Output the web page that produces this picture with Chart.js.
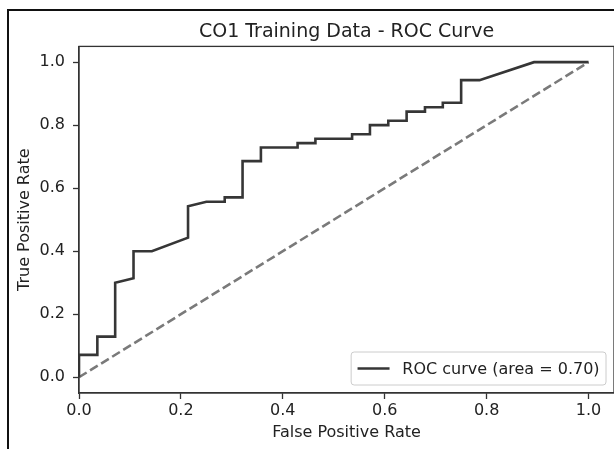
<!DOCTYPE html>
<html>
<head>
<meta charset="utf-8">
<title>CO1 Training Data - ROC Curve</title>
<script src="https://cdn.jsdelivr.net/npm/chart.js@4/dist/chart.umd.min.js"></script>
<style>
  html, body { margin: 0; padding: 0; background: #fff; }
  body { width: 614px; height: 449px; position: relative; overflow: hidden; }
  #frame { position: absolute; left: 7px; top: 9px; width: 700px; height: 600px; border-left: 2px solid #111; border-top: 2px solid #111; }
  #rocChart { position: absolute; left: 0; top: 0; }
</style>
</head>
<body>
<div id="frame"></div>
<canvas id="rocChart" width="614" height="449"></canvas>
<script>
'use strict';

// ROC curve points
var fprValues = [0, 0, 0.036, 0.036, 0.071, 0.071, 0.107, 0.107, 0.143, 0.214,
  0.214, 0.25, 0.286, 0.286, 0.321, 0.321, 0.357, 0.357, 0.429, 0.429,
  0.464, 0.464, 0.536, 0.536, 0.571, 0.571, 0.607, 0.607, 0.643, 0.643,
  0.679, 0.679, 0.714, 0.714, 0.75, 0.75, 0.786, 0.893, 1.0];
var tprValues = [0, 0.071, 0.071, 0.129, 0.129, 0.3, 0.314, 0.4, 0.4, 0.443,
  0.543, 0.557, 0.557, 0.571, 0.571, 0.686, 0.686, 0.729, 0.729, 0.743,
  0.743, 0.757, 0.757, 0.771, 0.771, 0.8, 0.8, 0.814, 0.814, 0.843,
  0.843, 0.857, 0.857, 0.871, 0.871, 0.943, 0.943, 1.0, 1.0];

// chance line
var chanceX = [0, 1];
var chanceY = [0, 1];

var xTickValues = [0, 0.2, 0.4, 0.6, 0.8, 1.0];
var yTickValues = [0, 0.2, 0.4, 0.6, 0.8, 1.0];

var rocLabel = 'ROC curve (area = 0.70)';

(function () {
  var FONT = 'DejaVu Sans';
  var INK = '#222';
  var SPINE = '#333';

  function points(xs, ys) {
    return xs.map(function (x, i) { return { x: x, y: ys[i] }; });
  }

  function fixedTicks(values) {
    return function (scale) {
      scale.ticks = values.map(function (v) { return { value: v }; });
    };
  }

  // box around the plot area, like the matplotlib spines
  var framePlugin = {
    id: 'frame',
    afterDatasetsDraw: function (chart) {
      var a = chart.chartArea;
      var ctx = chart.ctx;
      ctx.save();
      ctx.strokeStyle = SPINE;
      ctx.lineWidth = 1.3;
      ctx.strokeRect(a.left, a.top, a.right - a.left, a.bottom - a.top);
      ctx.restore();
    }
  };

  // legend in the lower right corner, only the ROC entry
  var legendPlugin = {
    id: 'cornerLegend',
    afterDraw: function (chart) {
      var a = chart.chartArea;
      var ctx = chart.ctx;
      var ds = chart.data.datasets[0];
      var fs = 16;
      ctx.save();
      ctx.font = fs + 'px "' + FONT + '"';
      var tw = ctx.measureText(ds.label).width;
      var pad = 0.4 * fs;
      var w = pad + 2 * fs + 0.8 * fs + tw + pad;
      var h = 33;
      var right = a.right - 8;
      var bottom = a.bottom - 8;
      var left = right - w;
      var top = bottom - h;
      ctx.beginPath();
      ctx.roundRect(left, top, w, h, 3);
      ctx.fillStyle = 'rgba(255,255,255,0.8)';
      ctx.fill();
      ctx.strokeStyle = '#cccccc';
      ctx.lineWidth = 1;
      ctx.stroke();
      var cy = top + h / 2;
      ctx.beginPath();
      ctx.moveTo(left + pad, cy);
      ctx.lineTo(left + pad + 2 * fs, cy);
      ctx.strokeStyle = ds.borderColor;
      ctx.lineWidth = ds.borderWidth;
      ctx.stroke();
      ctx.fillStyle = INK;
      ctx.textBaseline = 'middle';
      ctx.textAlign = 'left';
      ctx.fillText(ds.label, left + pad + 2.8 * fs, cy + 1);
      ctx.restore();
    }
  };

  var tickFont = { family: FONT, size: 16 };

  new Chart(document.getElementById('rocChart'), {
    type: 'scatter',
    data: {
      datasets: [
        {
          label: rocLabel,
          data: points(fprValues, tprValues),
          showLine: true,
          borderColor: '#363636',
          borderWidth: 2.6,
          pointRadius: 0,
          tension: 0
        },
        {
          label: 'chance',
          data: points(chanceX, chanceY),
          showLine: true,
          borderColor: '#7a7a7a',
          borderWidth: 2.6,
          borderDash: [9, 4],
          pointRadius: 0,
          tension: 0
        }
      ]
    },
    options: {
      responsive: false,
      animation: false,
      devicePixelRatio: 1,
      layout: { padding: { left: 0, right: 0, top: 0, bottom: 0 } },
      plugins: {
        legend: { display: false },
        tooltip: { enabled: false },
        title: {
          display: true,
          fullSize: false,
          text: 'CO1 Training Data - ROC Curve',
          color: INK,
          font: { family: FONT, size: 19, weight: 'normal' },
          padding: { top: 20.5, bottom: 3.1 }
        }
      },
      scales: {
        x: {
          type: 'linear',
          min: 0,
          max: 1.05,
          afterBuildTicks: fixedTicks(xTickValues),
          afterFit: function (scale) { scale.height = 56; },
          grid: { drawOnChartArea: false, drawTicks: true, tickLength: 6, tickWidth: 1.3, tickColor: SPINE },
          border: { display: true, color: SPINE, width: 1.3 },
          ticks: {
            color: INK,
            font: tickFont,
            padding: 2,
            maxRotation: 0,
            callback: function (v) { return Number(v).toFixed(1); }
          },
          title: {
            display: true,
            text: 'False Positive Rate',
            color: INK,
            font: tickFont,
            padding: { top: 0, bottom: 6.4 }
          }
        },
        y: {
          type: 'linear',
          min: -0.05,
          max: 1.05,
          afterBuildTicks: fixedTicks(yTickValues),
          afterFit: function (scale) { scale.width = 79; },
          grid: { drawOnChartArea: false, drawTicks: true, tickLength: 6, tickWidth: 1.3, tickColor: SPINE },
          border: { display: true, color: SPINE, width: 1.3 },
          ticks: {
            color: INK,
            font: tickFont,
            padding: 8,
            callback: function (v) { return Number(v).toFixed(1); }
          },
          title: {
            display: true,
            text: 'True Positive Rate',
            color: INK,
            font: tickFont,
            padding: { top: 15.5, bottom: 0 }
          }
        }
      }
    },
    plugins: [framePlugin, legendPlugin]
  });
})();
</script>
</body>
</html>
